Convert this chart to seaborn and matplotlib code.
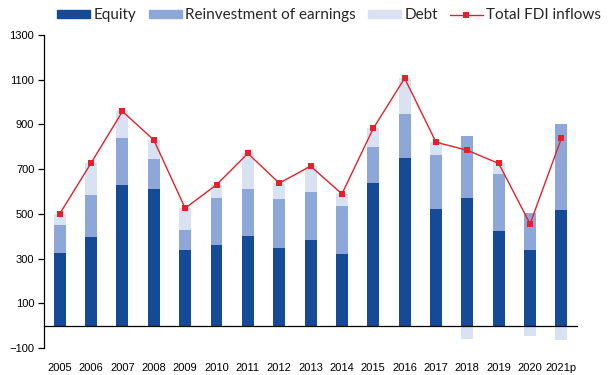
import numpy as np
import pandas as pd
import matplotlib
matplotlib.use('Agg')
import matplotlib.pyplot as plt
import seaborn as sns
from matplotlib.patches import Patch
from matplotlib.lines import Line2D

years = ['2005', '2006', '2007', '2008', '2009', '2010', '2011', '2012', '2013',
         '2014', '2015', '2016', '2017', '2018', '2019', '2020', '2021p']
equity = [325, 397, 627, 610, 338, 362, 399, 348, 383, 320, 637, 750, 521, 570, 423, 339, 518]
reinvest = [125, 188, 212, 134, 91, 209, 213, 216, 214, 217, 161, 198, 241, 277, 257, 163, 385]
debt = [50, 141, 119, 86, 96, 59, 158, 73, 116, 52, 84, 158, 58, -61, 45, -45, -64]
total_fdi = [500, 727, 958, 830, 525, 630, 770, 637, 713, 589, 882, 1106, 820, 784, 725, 455, 838]

c_eq = '#154b96'
c_re = '#8da8d8'
c_de = '#d9e2f3'
c_line = '#e5202b'

sns.set_theme(style='white')
plt.rcParams['font.family'] = ['Liberation Sans', 'DejaVu Sans']

df = pd.DataFrame({'year': years, 'equity': equity, 'reinvest': reinvest, 'debt': debt})
# stacked look: draw cumulative levels back to front, negative debt separately
df['lvl2'] = df['equity'] + df['reinvest']
df['lvl3'] = df['lvl2'] + df['debt'].clip(lower=0)
df['neg'] = df['debt'].clip(upper=0)

fig = plt.figure(figsize=(6.12, 3.75), dpi=100)
ax = fig.add_axes([0.072, 0.072, 0.871, 0.835])

w = 0.38
sns.barplot(data=df, x='year', y='lvl3', color=c_de, width=w, saturation=1, ax=ax)
sns.barplot(data=df, x='year', y='lvl2', color=c_re, width=w, saturation=1, ax=ax)
sns.barplot(data=df, x='year', y='equity', color=c_eq, width=w, saturation=1, ax=ax)
sns.barplot(data=df, x='year', y='neg', color=c_de, width=w, saturation=1, ax=ax)
for p in ax.patches:
    p.set_linewidth(0)

sns.lineplot(x=np.arange(len(years)), y=total_fdi, color=c_line, lw=1.0,
             marker='s', markersize=5, markeredgewidth=0, ax=ax)

ax.set_xlim(-0.5, len(years) - 0.5)
ax.set_ylim(-100, 1300)
ax.set_yticks(np.arange(-100, 1301, 200))
ax.set_xlabel('')
ax.set_ylabel('')

for s in ['top', 'right']:
    ax.spines[s].set_visible(False)
ax.spines['left'].set_color('black')
ax.spines['left'].set_linewidth(0.9)
ax.spines['bottom'].set_position(('data', 0))
ax.spines['bottom'].set_color('black')
ax.spines['bottom'].set_linewidth(0.9)

ax.set_xticks(np.arange(len(years)))
ax.set_xticklabels(years)
ax.set_xticks(np.arange(-0.5, len(years)), minor=True)
ax.tick_params(axis='x', which='major', length=0, pad=27, labelsize=8, colors='black')
ax.tick_params(axis='x', which='minor', length=4, width=0.9, direction='out', color='black')
ax.tick_params(axis='y', which='major', length=4, width=0.9, direction='out',
               labelsize=8, colors='black', left=True, pad=3)

handles = [Patch(color=c_eq), Patch(color=c_re), Patch(color=c_de),
           Line2D([0], [0], color=c_line, lw=1.0, marker='s', markersize=4, markeredgewidth=0)]
labels = ['Equity', 'Reinvestment of earnings', 'Debt', 'Total FDI inflows']
fig.legend(handles, labels, loc='center', bbox_to_anchor=(0.538, 0.959), ncol=4,
           frameon=False, handlelength=2.16, handleheight=0.46,
           columnspacing=0.8, handletextpad=0.22, borderaxespad=0, borderpad=0,
           prop={'family': 'Lato', 'size': 11})

fig.savefig('out.png', dpi=100)
